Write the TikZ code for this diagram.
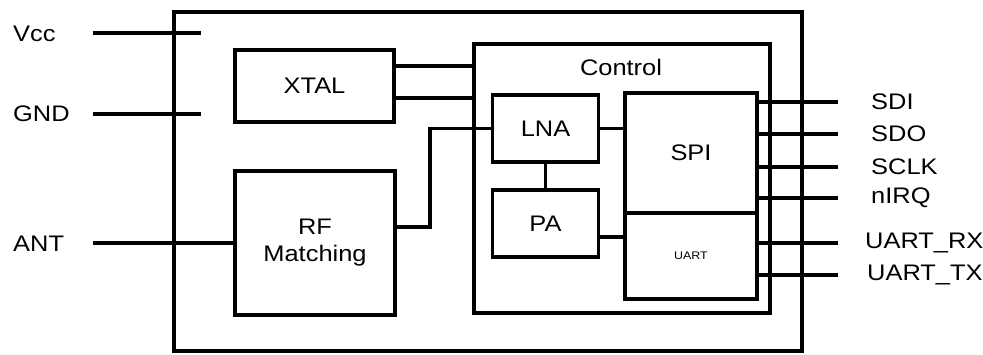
\documentclass[tikz,border=0pt]{standalone}
\usepackage{fontspec}
\setmainfont{Liberation Sans}[FakeStretch=1.13]
\begin{document}
\begin{tikzpicture}[x=1pt,y=-1pt,
  blk/.style={draw=black,line width=3.6pt,inner sep=0pt,outer sep=0pt,font=\fontsize{22.5}{27}\selectfont,align=center},
  wire/.style={draw=black,line width=3.6pt},
  lbl/.style={inner sep=0pt,anchor=west,font=\fontsize{22.5}{27}\selectfont},
  plain/.style={inner sep=0pt,font=\fontsize{22.5}{27}\selectfont}]
\useasboundingbox (0,0) rectangle (983,354);
% boxes
\node[blk,minimum width=628pt,minimum height=339pt] (outer) at (488,181.5) {};
\node[blk,minimum width=296pt,minimum height=269pt] (ctrl) at (622,178.5) {};
\node[plain] (ctrlt) at (621,67) {Control};
\node[blk,minimum width=159pt,minimum height=72pt] (xtal) at (314.5,86) {XTAL};
\node[blk,minimum width=160pt,minimum height=144pt] (rf) at (315,243) {RF\\Matching};
\node[blk,minimum width=106pt,minimum height=67pt] (lna) at (545.5,128.5) {LNA};
\node[blk,minimum width=106pt,minimum height=67pt] (pa) at (545.5,223.5) {PA};
\node[blk,minimum width=132pt,minimum height=120pt] (spi) at (691,153) {SPI};
\node[blk,minimum width=132pt,minimum height=86pt,font=\fontsize{11}{13}\selectfont] (uart) at (691,256) {UART};
% left pins
\node[lbl] (vcc) at (13,34) {Vcc};
\node[lbl] (gnd) at (13,114) {GND};
\node[lbl] (ant) at (13,244) {ANT};
\coordinate (vccA) at (93,33);
\coordinate (vccB) at (201,33);
\coordinate (gndA) at (93,114);
\coordinate (gndB) at (201,114);
\coordinate (antA) at (93,243);
\draw[wire] (vccA) -- (vccB);
\draw[wire] (gndA) -- (gndB);
\draw[wire] (antA) -- (antA -| rf.west);
% xtal to control
\draw[wire] (xtal.east |- 0,66) -- (ctrl.west |- 0,66);
\draw[wire] (xtal.east |- 0,98) -- (ctrl.west |- 0,98);
% rf to lna
\coordinate (rfk) at (430,227);
\draw[wire] (rf.east |- rfk) -- (rfk) |- (lna.west);
% lna-pa
\draw[wire] (lna.south) -- (pa.north);
% lna-spi, pa-uart
\draw[wire] (lna.east) -- (lna.east -| spi.west);
\draw[wire] (pa.east |- 0,237) -- (spi.west |- 0,237);
% right pins
\coordinate (sdiB) at (838,102);
\coordinate (sdoB) at (838,134);
\coordinate (sclkB) at (838,167);
\coordinate (nirqB) at (838,198);
\coordinate (rxB) at (838,243);
\coordinate (txB) at (838,275);
\draw[wire] (spi.east |- sdiB) -- (sdiB);
\draw[wire] (spi.east |- sdoB) -- (sdoB);
\draw[wire] (spi.east |- sclkB) -- (sclkB);
\draw[wire] (spi.east |- nirqB) -- (nirqB);
\draw[wire] (uart.east |- rxB) -- (rxB);
\draw[wire] (uart.east |- txB) -- (txB);
\node[lbl] (sdi) at (871,102) {SDI};
\node[lbl] (sdo) at (871,134) {SDO};
\node[lbl] (sclk) at (871,167) {SCLK};
\node[lbl] (nirq) at (871,198) {nIRQ};
\node[lbl] (rx) at (865,243) {UART\_RX};
\node[lbl] (tx) at (867,275) {UART\_TX};
\end{tikzpicture}
\end{document}
